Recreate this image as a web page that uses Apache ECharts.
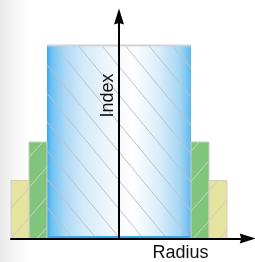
<!DOCTYPE html>
<html><head><meta charset="utf-8">
<script src="https://cdn.jsdelivr.net/npm/echarts@6/dist/echarts.min.js"></script>
<style>
html,body{margin:0;padding:0;background:#fff}
#c{width:255px;height:262px;background:linear-gradient(to right,#e8e8e8 0px,#f6f6f6 14px,#ffffff 30px)}
</style>
</head><body><div id="c"></div>
<script>
// ---- data ----
const layers = ['Core', 'Inner cladding', 'Outer cladding'];
const innerRadius = [0, 4, 5];
const outerRadius = [4, 5, 6];
const refIndex = [10, 5, 3];
const axisNames = ['Radius', 'Index'];

const chart = echarts.init(document.getElementById('c'), null, {renderer: 'canvas'});

// diagonal hatch clipped to rect: dir=1 "\" , dir=-1 "/"
function hatch(x1, y1, x2, y2, slope, spacing, phase, dir, color) {
  const out = [];
  const cmin = dir > 0 ? y1 - slope * x2 : y1 + slope * x1;
  const cmax = dir > 0 ? y2 - slope * x1 : y2 + slope * x2;
  const c0 = Math.ceil((cmin - phase) / spacing) * spacing + phase;
  for (let c = c0; c <= cmax; c += spacing) {
    let lo, hi;
    if (dir > 0) { lo = Math.max(x1, (y1 - c) / slope); hi = Math.min(x2, (y2 - c) / slope); }
    else { lo = Math.max(x1, (c - y2) / slope); hi = Math.min(x2, (c - y1) / slope); }
    if (hi - lo > 0.5) {
      const ya = dir > 0 ? slope * lo + c : -slope * lo + c;
      const yb = dir > 0 ? slope * hi + c : -slope * hi + c;
      out.push({type: 'line', shape: {x1: lo, y1: ya, x2: hi, y2: yb},
        style: {stroke: color, lineWidth: 1}, silent: true});
    }
  }
  return out;
}

const layerFill = [null, '#80c57b', '#e6e39e'];
const layerHatch = ['#bcc3c8', '#c9d6c6', '#cfcdb8'];

function renderItem(params, api) {
  const inner = api.value(0), outer = api.value(1), idx = api.value(2), li = api.value(3);
  const children = [];
  if (inner === 0) {
    const p1 = api.coord([-outer, idx]);
    const p2 = api.coord([outer, 0]);
    const x1 = p1[0], y1 = p1[1], x2 = p2[0], y2 = p2[1];
    children.push({type: 'rect', shape: {x: x1, y: y1, width: x2 - x1, height: y2 - y1},
      style: {fill: new echarts.graphic.LinearGradient(0, 0, 1, 0, [
        {offset: 0, color: '#36a8ef'},
        {offset: 0.03, color: '#6cbff2'},
        {offset: 0.12, color: '#a9d7f5'},
        {offset: 0.25, color: '#d3eaf9'},
        {offset: 0.45, color: '#f2f8fd'},
        {offset: 0.6, color: '#ffffff'},
        {offset: 0.78, color: '#d9edfa'},
        {offset: 0.92, color: '#a5d6f4'},
        {offset: 0.97, color: '#7cc5f1'},
        {offset: 1, color: '#5ab8ee'}
      ])}});
    hatch(x1, y1, x2, y2, 1.21, 28.5, 8, 1, layerHatch[li]).forEach(e => children.push(e));
    children.push({type: 'line', shape: {x1: x1, y1: y1, x2: x2, y2: y1}, style: {stroke: '#d2d2d2', lineWidth: 2}});
    children.push({type: 'line', shape: {x1: x1, y1: y2 - 1.5, x2: x2, y2: y2 - 1.5}, style: {stroke: '#3aa9ee', lineWidth: 2}});
  } else {
    [[-outer, -inner], [inner, outer]].forEach(([a, b]) => {
      const p1 = api.coord([a, idx]);
      const p2 = api.coord([b, 0]);
      const x1 = p1[0], y1 = p1[1], x2 = p2[0], y2 = p2[1];
      children.push({type: 'rect', shape: {x: x1, y: y1, width: x2 - x1, height: y2 - y1},
        style: {fill: layerFill[li], stroke: '#cccccc', lineWidth: 1}});
      hatch(x1, y1, x2, y2, 1.15, 30, 11, -1, layerHatch[li]).forEach(e => children.push(e));
    });
  }
  return {type: 'group', children: children};
}

const arrowPath = 'path://M5,0 L10,16 L5,14.5 L0,16 Z';

const option = {
  animation: false,
  grid: {left: 11, right: 7.3, top: 16.5, bottom: 23.5, containLabel: false},
  xAxis: {
    type: 'value', min: -6, max: 7.15, z: 10,
    axisLine: {show: true, onZero: true, symbol: ['none', arrowPath], symbolSize: [10, 16],
      lineStyle: {color: '#000', width: 2}},
    axisTick: {show: false}, axisLabel: {show: false}, splitLine: {show: false}
  },
  yAxis: {
    type: 'value', min: 0, max: 11.5, z: 10,
    axisLine: {show: true, onZero: true, symbol: ['none', arrowPath], symbolSize: [10, 16],
      lineStyle: {color: '#000', width: 2}},
    axisTick: {show: false}, axisLabel: {show: false}, splitLine: {show: false}
  },
  graphic: [
    {type: 'text', x: 180.5, y: 253.5, z: 100,
      style: {text: axisNames[0], font: '18px "Liberation Sans", Arial, sans-serif', fill: '#111',
        align: 'center', textAlign: 'center', verticalAlign: 'middle', textVerticalAlign: 'middle'}},
    {type: 'text', x: 108, y: 95.5, rotation: Math.PI / 2, z: 100,
      style: {text: axisNames[1], font: '18px "Liberation Sans", Arial, sans-serif', fill: '#111',
        align: 'center', textAlign: 'center', verticalAlign: 'middle', textVerticalAlign: 'middle'}}
  ],
  series: [{
    type: 'custom', renderItem: renderItem, clip: false, z: 1,
    encode: {x: [0, 1], y: 2},
    data: layers.map((n, i) => [innerRadius[i], outerRadius[i], refIndex[i], i])
  }]
};
chart.setOption(option);
</script>
</body></html>
